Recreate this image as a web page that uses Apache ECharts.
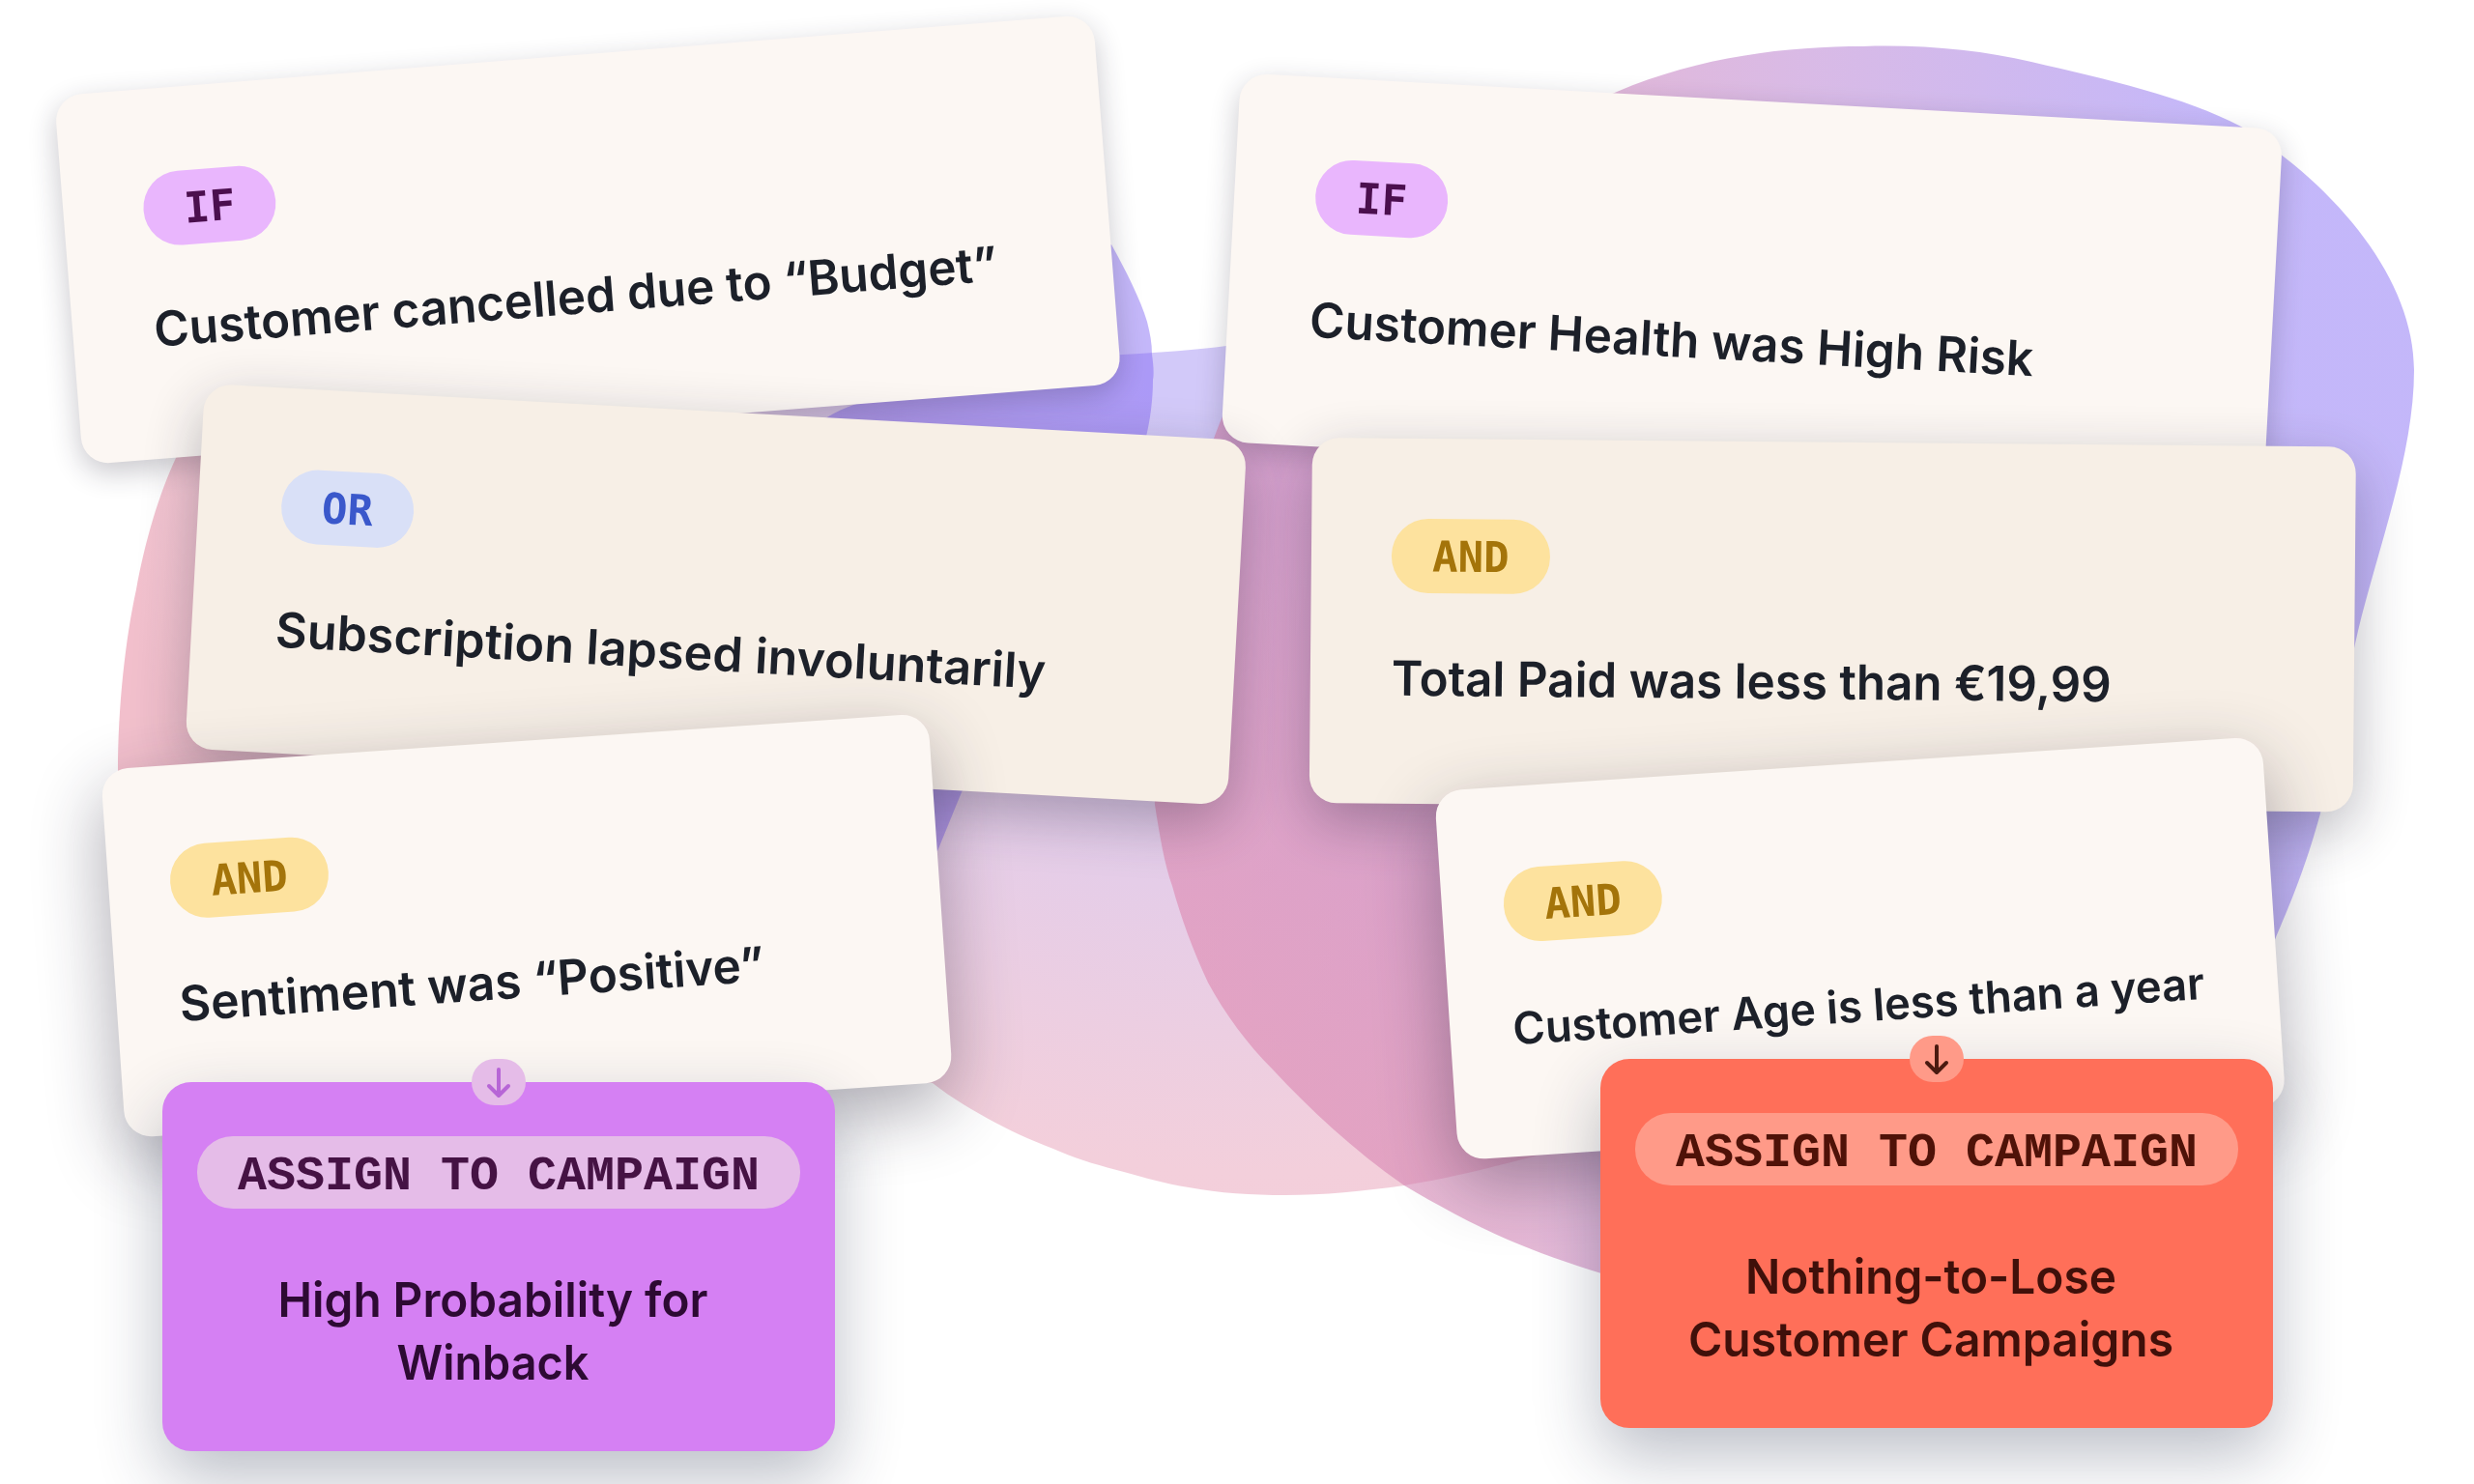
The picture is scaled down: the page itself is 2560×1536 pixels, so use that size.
<!DOCTYPE html>
<html>
<head>
<meta charset="utf-8">
<title>Campaign rules</title>
<style>
html, body { margin: 0; padding: 0; background: #fff; }
#chart { width: 2560px; height: 1536px; }
</style>
<script src="https://cdn.jsdelivr.net/npm/echarts@6/dist/echarts.min.js"></script>
</head>
<body>
<div id="chart"></div>
<script>
// what the cards say
var conditionTags = ['IF', 'IF', 'OR', 'AND', 'AND', 'AND'];
var conditionTexts = [
    'Customer cancelled due to \u201cBudget\u201d',
    'Customer Health was High Risk',
    'Subscription lapsed involuntarily',
    'Total Paid was less than \u20ac19,99',
    'Sentiment was \u201cPositive\u201d',
    'Customer Age is less than a year'
];
var actionLabel = 'ASSIGN TO CAMPAIGN';
var winbackLines = ['High Probability for', 'Winback'];
var nothingLines = ['Nothing-to-Lose', 'Customer Campaigns'];

var TEXT_FONT = 'Inter, "Noto Sans", sans-serif';
var MONO_FONT = '"Liberation Mono", monospace';
var TAG_FONT = '"DejaVu Sans Mono", monospace';

var tagStyles = {
    IF: { bg: '#e9b6fd', fg: '#4b0f4e', w: 137 },
    OR: { bg: '#d9e0f7', fg: '#3a58cb', w: 137 },
    AND: { bg: '#fde29e', fg: '#a4740a', w: 164 }
};

// background shapes, they only show between the cards
echarts.graphic.registerShape('blobLeft', echarts.graphic.extendPath(
    'M1269 358 C1500 330 1830 560 1850 800 C1860 1000 1760 1150 1583 1198 ' +
    'C1530 1212 1490 1221 1453 1227 C1410 1233 1370 1237 1330 1237 C1295 1237 1262 1235 1230 1229 ' +
    'C1205 1225 1185 1219 1163 1213 C1140 1207 1118 1201 1097 1192 C1075 1183 1052 1174 1030 1162 ' +
    'C1008 1150 985 1137 965 1121 ' +
    'C700 1100 300 1100 160 1000 C125 950 122 870 122 800 ' +
    'C122 730 130 660 141 610 C150 560 165 510 182 474 C250 380 500 380 800 400 ' +
    'C900 390 1040 378 1161 367 C1200 365 1240 362 1269 358 Z', {}));
echarts.graphic.registerShape('blobRight', echarts.graphic.extendPath(
    'M1928 48 C1990 46 2050 52 2102 64 C2180 82 2260 100 2319 131 C2420 195 2498 290 2498 383 ' +
    'C2498 470 2460 570 2440 653 C2425 720 2415 770 2401 842 C2385 900 2370 935 2353 975 ' +
    'L2300 1100 L2100 1340 L1700 1335 L1657 1318 ' +
    'C1625 1308 1590 1296 1560 1283 C1525 1268 1485 1246 1453 1227 C1400 1190 1355 1148 1317 1107 ' +
    'C1290 1080 1268 1050 1250 1017 C1235 985 1222 950 1213 917 C1205 895 1200 865 1195 833 ' +
    'C1190 720 1225 530 1262 438 C1340 260 1520 160 1673 95 ' +
    'C1760 58 1850 48 1928 48 Z', {}));
echarts.graphic.registerShape('blobBack', echarts.graphic.extendPath(
    'M854 433 C875 420 895 415 920 408 C1000 360 1080 300 1150 253 C1165 280 1180 310 1187 333 ' +
    'C1190 345 1192 355 1192 367 C1194 380 1194 390 1193 393 C1193 415 1190 435 1186 452 ' +
    'L995 820 L970 881 L800 800 L800 600 Z', {}));

function blobs() {
    return [
        {
            type: 'blobLeft',
            style: {
                fill: {
                    type: 'radial', global: true, x: 1300, y: 350, r: 1200,
                    colorStops: [
                        { offset: 0, color: '#d2c9f9' },
                        { offset: 0.1, color: '#d2c9f9' },
                        { offset: 0.48, color: '#e5cde8' },
                        { offset: 0.72, color: '#f3cfdb' },
                        { offset: 0.85, color: '#f3cdd9' },
                        { offset: 1, color: '#f2bfcc' }
                    ]
                }
            }
        },
        { type: 'blobBack', style: { fill: 'rgba(124,95,244,0.45)' } },
        {
            type: 'blobRight',
            style: {
                fill: {
                    type: 'linear', global: true, x: 1250, y: 0, x2: 2300, y2: 0,
                    colorStops: [
                        { offset: 0, color: 'rgba(220,128,170,0.55)' },
                        { offset: 0.3, color: 'rgba(208,124,178,0.55)' },
                        { offset: 0.6, color: 'rgba(185,130,210,0.55)' },
                        { offset: 1, color: 'rgba(147,124,245,0.55)' }
                    ]
                }
            }
        }
    ];
}

var measureCtx = document.createElement('canvas').getContext('2d');

// a text line, y is the baseline, width squeezes it to the measured length
function line(text, x, y, size, color, opts) {
    opts = opts || {};
    var font = (opts.weight || 600) + ' ' + size + 'px ' + (opts.font || TEXT_FONT);
    var el = {
        type: 'text',
        x: x,
        y: y - size * 0.36,
        style: {
            text: text,
            font: font,
            fill: color,
            textAlign: opts.align || 'left',
            textVerticalAlign: 'middle'
        }
    };
    if (opts.width) {
        measureCtx.font = font;
        el.scaleX = opts.width / measureCtx.measureText(text).width;
    }
    return el;
}

// one tilted condition card, everything inside is in card coordinates
function card(i, c) {
    var tag = tagStyles[conditionTags[i]];
    return {
        type: 'group',
        x: c.x,
        y: c.y,
        rotation: -c.angle * Math.PI / 180,
        children: [
            {
                type: 'rect',
                shape: { x: 0, y: 0, width: c.w, height: c.h, r: 28 },
                style: {
                    fill: c.fill,
                    shadowBlur: c.blur,
                    shadowOffsetY: c.blur / 3,
                    shadowColor: c.shadow
                }
            },
            {
                type: 'rect',
                shape: { x: c.pad, y: c.tagY, width: tag.w, height: 77, r: 38 },
                style: { fill: tag.bg }
            },
            {
                type: 'text',
                x: c.pad + tag.w / 2,
                y: c.tagY + 43,
                style: {
                    text: conditionTags[i],
                    font: '700 44px ' + TAG_FONT,
                    fill: tag.fg,
                    textAlign: 'center',
                    textVerticalAlign: 'middle'
                }
            },
            line(conditionTexts[i], c.pad + 1, c.base, c.size || 50, '#1c2029', { width: c.textW })
        ]
    };
}

function arrow(cx, cy, color) {
    var st = { stroke: color, lineWidth: 4, lineCap: 'round', lineJoin: 'round', fill: null };
    return [
        { type: 'line', shape: { x1: cx, y1: cy - 13, x2: cx, y2: cy + 13 }, style: st },
        { type: 'polyline', shape: { points: [[cx - 10, cy + 4], [cx, cy + 14], [cx + 10, cy + 4]] }, style: st }
    ];
}

// flat campaign box with its badge on the top edge
function campaign(b, lines) {
    var mid = b.x + b.w / 2;
    return [
        {
            type: 'rect',
            shape: { x: b.x, y: b.y, width: b.w, height: b.h, r: 30 },
            style: { fill: b.fill, shadowBlur: 70, shadowOffsetY: 28, shadowColor: 'rgba(30,40,70,0.3)' }
        },
        {
            type: 'rect',
            shape: { x: mid - 28, y: b.y - 24, width: 56, height: 48, r: 24 },
            style: { fill: b.soft }
        }
    ].concat(arrow(mid, b.y, b.arrow)).concat([
        {
            type: 'rect',
            shape: { x: b.x + 36, y: b.y + 56, width: b.w - 72, height: 75, r: 37 },
            style: { fill: b.soft }
        },
        line(actionLabel, mid, b.y + 116, 50, b.label, { font: MONO_FONT, weight: 700, align: 'center' }),
        line(lines[0], mid - 6, b.y + 246, 50, b.text, { align: 'center', width: b.widths[0] }),
        line(lines[1], mid - 6, b.y + 311, 50, b.text, { align: 'center', width: b.widths[1] })
    ]);
}

var chart = echarts.init(document.getElementById('chart'));

var softShadow = 'rgba(35,30,50,0.25)';
var midShadow = 'rgba(35,30,50,0.32)';
var deepShadow = 'rgba(35,30,50,0.38)';

var elements = blobs().concat([
    card(0, { x: 56, y: 99.5, w: 1078, h: 383, angle: -4.5, fill: '#fcf7f3', pad: 83, tagY: 87, base: 270, textW: 875, blur: 30, shadow: softShadow }),
    card(1, { x: 1284, y: 75.5, w: 1080, h: 382, angle: 3.1, fill: '#fcf7f3', pad: 84, tagY: 84, base: 272, textW: 750, blur: 30, shadow: softShadow }),
    card(2, { x: 212, y: 397, w: 1080, h: 378, angle: 3.13, fill: '#f7efe6', pad: 86, tagY: 83, base: 271, textW: 798, blur: 60, shadow: midShadow }),
    card(3, { x: 1358, y: 453, w: 1080, h: 378, angle: 0.5, fill: '#f7efe6', pad: 83, tagY: 83, base: 269, textW: 745, blur: 60, shadow: midShadow }),
    card(4, { x: 104, y: 797, w: 858, h: 382, angle: -3.93, fill: '#fcf7f3', pad: 64, tagY: 83, base: 268, textW: 606, blur: 75, shadow: deepShadow }),
    card(5, { x: 1484, y: 819, w: 858, h: 383, angle: -3.8, fill: '#fcf7f3', pad: 64, tagY: 85, base: 270, size: 46, textW: 717, blur: 75, shadow: deepShadow })
]).concat(
    campaign({ x: 168, y: 1120, w: 696, h: 382, fill: '#d580f3', soft: '#e5bce8', arrow: '#b766d6', label: '#451244', text: '#2d0a33', widths: [445, 199] }, winbackLines)
).concat(
    campaign({ x: 1656, y: 1096, w: 696, h: 382, fill: '#ff6f59', soft: '#ff9a88', arrow: '#4a1a10', label: '#4f1208', text: '#40100a', widths: [384, 502] }, nothingLines)
);

chart.setOption({
    animation: false,
    backgroundColor: '#ffffff',
    graphic: { elements: elements }
});
</script>
</body>
</html>
